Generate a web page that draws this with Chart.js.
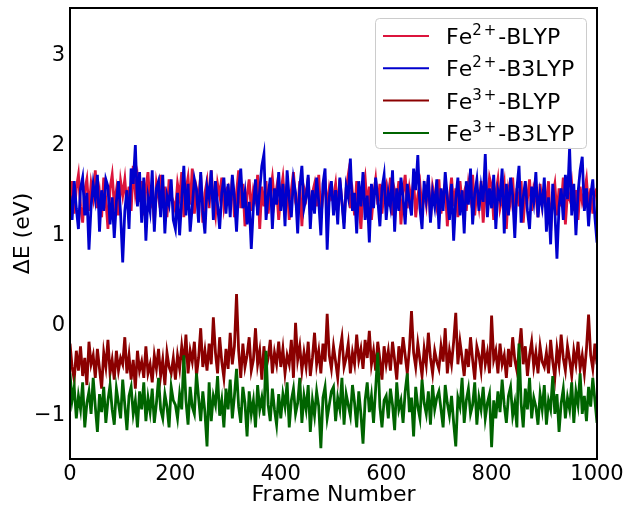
<!DOCTYPE html>
<html>
<head>
<meta charset="utf-8">
<script src="https://cdn.jsdelivr.net/npm/chart.js@4"></script>
<style>
  html, body { margin: 0; padding: 0; background: #fff; }
  #wrap { width: 625px; height: 509px; }
</style>
</head>
<body>
<div id="wrap"><canvas id="deltaChart"></canvas></div>
<script>
// frame numbers, one every 4 frames
const frames = Array.from({ length: 251 }, (_, i) => i * 4);

const fe2Blyp = [
  1.35, 1.58, 1.22, 1.50, 1.65, 1.30, 1.12, 1.48, 1.60, 1.25, 1.55, 1.40, 1.70, 1.28, 1.45, 1.18, 1.62, 1.38, 1.05, 1.50, 1.65, 1.32, 1.48, 1.20, 1.58,
  1.42, 1.60, 1.30, 1.52, 1.25, 1.75, 1.45, 1.62, 1.35, 1.58, 1.20, 1.50, 1.68, 1.28, 1.45, 1.10, 1.55, 1.40, 1.65, 1.30, 1.52, 1.18, 1.60, 1.42, 1.35,
  1.25, 1.55, 1.40, 1.68, 1.18, 1.48, 1.62, 1.32, 1.72, 1.22, 1.50, 1.38, 1.65, 1.12, 1.45, 1.58, 1.28, 1.70, 1.35, 1.20, 1.55, 1.42, 1.62, 1.30, 1.48,
  1.52, 1.30, 1.62, 1.18, 1.45, 1.70, 1.28, 1.55, 1.08, 1.42, 1.60, 1.25, 1.48, 1.38, 1.65, 1.05, 1.52, 1.30, 1.58, 1.22, 1.45, 1.62, 1.35, 1.50, 1.15,
  1.45, 1.62, 1.30, 1.55, 1.15, 1.48, 1.68, 1.35, 1.25, 1.58, 1.08, 1.50, 1.40, 1.62, 1.20, 1.45, 1.55, 1.30, 1.65, 1.18, 1.42, 1.58, 1.28, 1.50, 1.38,
  1.40, 1.55, 1.25, 1.60, 1.35, 1.12, 1.50, 1.65, 1.28, 1.45, 1.20, 1.58, 1.38, 1.05, 1.48, 1.62, 1.30, 1.52, 1.15, 1.42, 1.60, 1.32, 1.55, 1.22, 1.48,
  1.55, 1.30, 1.62, 1.20, 1.48, 1.38, 1.58, 1.10, 1.45, 1.65, 1.28, 1.50, 1.35, 1.60, 1.18, 1.42, 1.55, 1.25, 1.48, 1.32, 1.62, 1.15, 1.52, 1.40, 1.28,
  1.60, 1.22, 1.45, 1.55, 1.08, 1.40, 1.62, 1.30, 1.50, 1.18, 1.58, 1.35, 1.45, 1.25, 1.55, 1.40, 1.65, 1.20, 1.48, 1.30, 1.58, 1.12, 1.45, 1.35, 1.62,
  1.52, 1.15, 1.45, 1.60, 1.28, 1.40, 1.55, 1.05, 1.48, 1.35, 1.62, 1.20, 1.50, 1.30, 1.58, 1.12, 1.45, 1.38, 1.60, 1.25, 1.50, 1.42, 1.18, 1.55, 1.32,
  1.48, 1.35, 1.58, 1.02, 1.42, 1.55, 1.20, 1.50, 1.30, 1.62, 1.10, 1.45, 1.38, 1.55, 1.25, 1.48, 1.15, 1.52, 1.35, 1.45, 1.60, 1.28, 1.50, 1.22, 1.45,
  1.50
];

const fe2B3lyp = [
  1.42, 1.15, 1.58, 1.28, 1.05, 1.50, 1.62, 1.20, 1.45, 0.82, 1.30, 1.55, 1.38, 1.65, 1.02, 1.48, 1.25, 1.60, 1.52, 1.10, 1.40, 0.95, 1.35, 1.58, 1.22,
  0.68, 1.25, 1.48, 1.05, 1.72, 1.55, 1.98, 1.30, 1.68, 1.12, 1.62, 0.92, 1.40, 1.25, 1.70, 1.02, 1.50, 1.58, 1.18, 1.65, 1.00, 1.42, 1.32, 1.60, 1.15,
  1.05, 1.45, 0.98, 1.38, 1.75, 1.20, 1.55, 1.02, 1.30, 1.60, 1.48, 1.12, 1.68, 1.25, 1.00, 1.52, 1.40, 1.70, 1.15, 1.58, 1.32, 1.05, 1.45, 1.62, 1.22,
  1.55, 1.18, 1.65, 1.40, 1.02, 1.50, 1.72, 1.28, 1.45, 1.10, 1.35, 0.83, 1.30, 1.60, 1.20, 1.48, 1.75, 1.88, 1.15, 1.42, 1.62, 1.05, 1.50, 1.32, 1.68,
  1.25, 1.55, 1.08, 1.70, 1.38, 1.18, 1.60, 1.45, 1.00, 1.52, 1.75, 1.28, 1.40, 1.65, 1.05, 1.48, 1.22, 1.62, 1.35, 0.98, 1.55, 1.72, 0.82, 1.40, 1.58,
  1.20, 1.48, 1.10, 1.62, 1.35, 1.05, 1.52, 1.40, 1.83, 1.25, 1.45, 1.00, 1.58, 1.30, 1.68, 1.15, 1.42, 0.90, 1.55, 1.28, 1.62, 1.38, 1.08, 1.50, 1.65,
  1.15, 1.45, 1.30, 1.70, 1.02, 1.50, 1.25, 1.62, 1.40, 1.10, 1.55, 1.35, 1.20, 1.72, 1.48, 1.87, 1.28, 1.05, 1.58, 1.38, 1.65, 1.12, 1.45, 1.30, 1.60,
  1.05, 1.50, 1.25, 1.68, 1.40, 1.15, 1.55, 0.92, 1.38, 1.62, 1.20, 1.48, 1.00, 1.58, 1.32, 1.72, 1.10, 1.45, 1.60, 1.25, 1.52, 1.35, 1.88, 1.18, 1.50,
  1.28, 1.65, 1.05, 1.48, 1.38, 1.72, 1.00, 1.55, 1.20, 1.62, 1.42, 0.95, 1.50, 1.75, 1.12, 1.40, 1.58, 1.25, 1.05, 1.52, 1.35, 1.68, 1.18, 1.45, 1.30,
  1.62, 1.02, 1.40, 0.88, 1.55, 1.25, 0.72, 1.30, 1.50, 1.15, 1.65, 1.38, 1.95, 1.20, 1.55, 0.98, 1.45, 1.70, 1.85, 1.25, 1.50, 1.08, 1.42, 1.60, 1.18,
  0.90
];

const fe3Blyp = [
  -0.22, -0.48, -0.62, -0.30, -0.52, -0.25, -0.58, -0.38, -0.68, -0.20, -0.45, -0.35, -0.60, -0.28, -0.50, -0.72, -0.32, -0.48, -0.18, -0.55, -0.40, -0.62, -0.30, -0.52, -0.38,
  -0.45, -0.15, -0.55, -0.35, -0.62, -0.40, -0.72, -0.30, -0.52, -0.42, -0.60, -0.25, -0.55, -0.45, -0.65, -0.35, -0.50, -0.28, -0.58, -0.40, -0.68, -0.32, -0.48, -0.55, -0.38,
  -0.62, -0.35, -0.50, -0.25, -0.45, -0.12, -0.55, -0.30, -0.42, -0.20, -0.58, -0.38, -0.05, -0.48, -0.30, -0.52, -0.22, -0.45, 0.07, -0.32, -0.55, -0.15, -0.42, -0.60, -0.28,
  -0.50, -0.10, -0.45, -0.25, 0.33, -0.30, -0.60, -0.22, -0.48, -0.35, -0.15, -0.52, -0.40, -0.05, -0.45, -0.30, -0.62, -0.25, -0.50, -0.38, -0.18, -0.55, -0.32, -0.45, -0.20,
  -0.48, -0.28, -0.55, -0.35, -0.45, -0.18, -0.60, 0.01, -0.40, -0.25, -0.52, -0.32, -0.48, -0.20, -0.58, -0.38, -0.10, -0.45, -0.30, -0.55, -0.22, -0.42, 0.11, -0.35, -0.50,
  -0.25, -0.42, -0.60, -0.30, -0.15, -0.48, -0.38, -0.22, -0.55, -0.32, -0.45, -0.12, -0.40, -0.28, -0.50, -0.18, -0.38, -0.08, -0.45, -0.30, -0.52, -0.20, -0.40, -0.62, -0.25,
  -0.45, -0.30, -0.52, -0.20, -0.40, -0.62, -0.25, -0.45, -0.15, -0.35, -0.55, -0.28, 0.14, -0.32, -0.48, -0.22, -0.40, -0.58, -0.28, -0.45, -0.10, -0.38, -0.55, -0.30, -0.42,
  -0.50, -0.25, -0.42, -0.05, -0.55, -0.30, -0.45, -0.20, 0.12, -0.45, -0.20, -0.38, -0.58, -0.28, -0.48, -0.15, -0.40, -0.62, -0.25, -0.35, -0.52, -0.18, -0.45, -0.32, -0.55,
  0.09, -0.40, -0.30, -0.55, -0.22, -0.45, -0.35, -0.60, -0.28, -0.48, -0.15, -0.40, -0.52, -0.30, -0.05, -0.45, -0.25, -0.58, -0.35, -0.20, -0.48, -0.32, -0.55, -0.25, -0.42,
  -0.48, -0.32, -0.55, -0.18, -0.42, -0.60, -0.28, -0.45, -0.12, -0.38, -0.52, -0.25, -0.40, -0.58, -0.30, -0.45, -0.20, -0.50, -0.35, -0.55, -0.28, 0.10, -0.35, -0.50, -0.22,
  -0.45
];

const fe3B3lyp = [
  -0.55, -0.85, -0.70, -1.05, -0.80, -0.95, -0.65, -1.15, -0.88, -0.75, -1.00, -0.60, -0.92, -1.20, -0.78, -0.98, -0.70, -1.10, -0.85, -0.68, -0.95, -1.12, -0.72, -0.88, -1.05,
  -0.62, -0.90, -1.18, -0.80, -0.70, -1.00, -0.85, -1.15, -0.75, -0.95, -0.65, -1.08, -0.82, -0.98, -0.72, -1.10, -0.88, -0.60, -0.95, -1.05, -0.78, -0.92, -1.15, -0.70, -0.85,
  -0.90, -1.05, -0.78, -0.95, -0.35, -0.85, -1.12, -0.70, -0.92, -1.00, -0.55, -0.82, -1.08, -0.75, -0.98, -1.36, -0.65, -1.08, -0.80, -0.90, -0.58, -1.02, -0.85, -1.15, -0.72,
  -0.95, -0.62, -1.05, -0.80, -0.50, -0.92, -1.10, -0.70, -0.88, -1.25, -0.75, -1.00, -0.85, -1.15, -0.68, -0.95, -0.82, -1.02, -0.30, -0.90, -1.08, -0.72, -0.95, -1.12, -0.78,
  -1.05, -0.78, -0.92, -0.65, -1.15, -0.85, -0.72, -1.00, -0.88, -0.60, -1.10, -0.80, -0.95, -0.68, -1.20, -0.85, -1.02, -0.75, -0.92, -1.38, -0.82, -0.70, -1.05, -0.90, -0.75,
  -0.70, -1.08, -0.82, -0.95, -0.60, -1.12, -0.78, -0.90, -1.02, -0.68, -0.88, -1.15, -0.75, -1.00, -1.33, -0.85, -0.65, -0.98, -0.80, -1.10, -0.72, -0.32, -0.92, -1.15, -0.85,
  -0.80, -1.05, -0.72, -0.90, -1.18, -0.65, -0.95, -0.85, -1.10, -0.75, -0.55, -0.98, -0.82, -1.25, -0.70, -0.92, -1.05, -0.62, -0.88, -1.00, -0.75, -1.12, -0.68, -0.95, -0.82,
  -0.75, -0.95, -1.15, -0.68, -0.88, -1.02, -0.80, -1.10, -1.36, -0.82, -0.92, -0.60, -1.10, -0.85, -0.72, -1.00, -0.90, -0.65, -1.12, -0.82, -0.95, -0.70, -1.05, -0.88, -0.78,
  -1.37, -0.85, -1.05, -0.75, -0.98, -0.62, -0.90, -1.10, -0.80, -0.70, -1.02, -0.88, -1.15, -0.22, -0.88, -1.15, -0.72, -0.95, -0.60, -1.05, -0.82, -0.92, -1.12, -0.78, -0.95,
  -0.68, -1.12, -0.85, -0.95, -0.58, -1.00, -0.78, -1.20, -0.88, -0.72, -1.05, -0.82, -0.95, -0.65, -1.10, -0.75, -0.90, -0.55, -1.00, -0.80, -1.08, -0.70, -0.92, -0.60, -0.85,
  -1.10
];

const xTicks = [0, 200, 400, 600, 800, 1000];
const yTicks = [-1, 0, 1, 2, 3];

const seriesLabels = ["Fe²⁺-BLYP", "Fe²⁺-B3LYP", "Fe³⁺-BLYP", "Fe³⁺-B3LYP"];
const seriesColors = ["#dc143c", "#0000cd", "#8b0000", "#006400"];
const seriesValues = [fe2Blyp, fe2B3lyp, fe3Blyp, fe3B3lyp];

Chart.defaults.font.family = "'DejaVu Sans', sans-serif";
Chart.defaults.font.size = 21;
Chart.defaults.color = "#000";

const FONT = "'DejaVu Sans'";
const SUP = { "²": "2", "³": "3", "⁺": "+" };

// black box around the plot area
const frameBox = {
  id: "frameBox",
  afterDatasetsDraw(chart) {
    const { ctx, chartArea: a } = chart;
    ctx.save();
    ctx.strokeStyle = "#000";
    ctx.lineWidth = 2;
    ctx.strokeRect(a.left, a.top, a.right - a.left, a.bottom - a.top);
    ctx.restore();
  },
};

// legend in the upper right, superscripts drawn raised like mathtext
const boxLegend = {
  id: "boxLegend",
  afterDraw(chart) {
    const { ctx } = chart;
    const x0 = 375, y0 = 18, w = 211, h = 130;
    ctx.save();
    ctx.fillStyle = "rgba(255,255,255,0.8)";
    ctx.strokeStyle = "#cccccc";
    ctx.lineWidth = 1;
    ctx.beginPath();
    ctx.roundRect(x0 + 0.5, y0 + 0.5, w, h, 4);
    ctx.fill();
    ctx.stroke();
    ctx.textBaseline = "alphabetic";
    ctx.fillStyle = "#000";
    chart.data.datasets.forEach((ds, i) => {
      const y = 36 + i * 32.3;
      ctx.strokeStyle = ds.borderColor;
      ctx.lineWidth = 2;
      ctx.beginPath();
      ctx.moveTo(383, y);
      ctx.lineTo(429, y);
      ctx.stroke();

      let x = 446;
      const base = y + 8;
      for (const ch of ds.label) {
        if (SUP[ch]) {
          ctx.font = "15px " + FONT;
          const t = SUP[ch];
          ctx.fillText(t, x, base - 9);
          x += ctx.measureText(t).width + 2;
        } else {
          ctx.font = "22px " + FONT;
          ctx.fillText(ch, x, base);
          x += ctx.measureText(ch).width;
        }
      }
    });
    ctx.restore();
  },
};

new Chart(document.getElementById("deltaChart"), {
  type: "line",
  data: {
    datasets: seriesValues.map((vals, i) => ({
      label: seriesLabels[i],
      data: vals.map((v, j) => ({ x: frames[j], y: v })),
      borderColor: seriesColors[i],
      backgroundColor: seriesColors[i],
      borderWidth: 2.8,
      pointRadius: 0,
      tension: 0,
      order: 4 - i, // later series drawn on top, like matplotlib
    })),
  },
  options: {
    responsive: true,
    maintainAspectRatio: false,
    animation: false,
    layout: { padding: { top: 8, right: 28, left: 0, bottom: 0 } },
    plugins: {
      legend: { display: false },
      tooltip: { enabled: false },
    },
    scales: {
      x: {
        type: "linear",
        min: 0,
        max: 1000,
        grid: { display: false, drawTicks: false },
        border: { display: false },
        afterBuildTicks: (s) => { s.ticks = xTicks.map((v) => ({ value: v })); },
        afterFit: (s) => { s.height = 50; s.paddingLeft = 0; s.paddingRight = 0; },
        ticks: { padding: 3, maxRotation: 0, color: "#000", callback: (v) => String(v) },
        title: { display: true, text: "Frame Number", font: { size: 22 }, padding: { top: 0, bottom: 1 } },
      },
      y: {
        min: -1.5,
        max: 3.5,
        grid: { display: false, drawTicks: false },
        border: { display: false },
        afterBuildTicks: (s) => { s.ticks = yTicks.map((v) => ({ value: v })); },
        afterFit: (s) => { s.width = 70; s.paddingTop = 0; s.paddingBottom = 0; },
        ticks: {
          padding: 5,
          labelOffset: 2,
          color: "#000",
          callback: (v) => (v < 0 ? "\u2212" + Math.abs(v) : String(v)),
        },
        title: { display: true, text: "ΔE (eV)", font: { size: 22 }, padding: { top: 10, bottom: 0 } },
      },
    },
  },
  plugins: [frameBox, boxLegend],
});
</script>
</body>
</html>
